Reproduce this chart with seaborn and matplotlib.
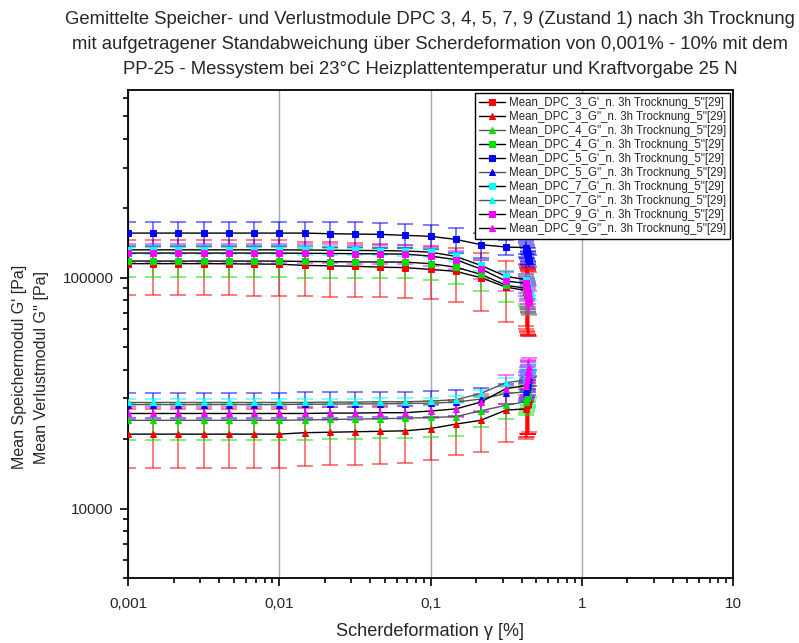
import numpy as np
import pandas as pd
import matplotlib
matplotlib.use("Agg")
import matplotlib.pyplot as plt
import seaborn as sns
from matplotlib.ticker import LogLocator, FuncFormatter, NullFormatter

# ---------------- data ----------------
strain = [0.001, 0.00147, 0.00215, 0.00316, 0.00464, 0.00681, 0.01, 0.0147,
          0.0215, 0.0316, 0.0464, 0.0681, 0.1, 0.147, 0.215, 0.316,
          0.427, 0.431, 0.434, 0.436, 0.438, 0.440, 0.442, 0.444, 0.446]

dpc3_gp = [115000, 115000, 115000, 115000, 114800, 114600, 114400, 113000, 112500, 112000,
           111100, 110500, 108600, 106500, 100000, 91000,
           88000, 86500, 85000, 84000, 83000, 82500, 82000, 81500, 81000]
dpc3_gp_sd = [31000, 31000, 31000, 31000, 31000, 31000, 31000, 30000, 30000, 29500,
              29000, 28500, 28000, 28000, 28000, 27000,
              26500, 26500, 26000, 26000, 26000, 26000, 25500, 25500, 25000]

dpc3_gpp = [21000, 21000, 21000, 21000, 21000, 21000, 21000, 21300, 21400, 21500,
            21600, 21700, 22200, 23200, 24100, 26700,
            27000, 27500, 28000, 28000, 28500, 28500, 29000, 29000, 29500]
dpc3_gpp_sd = [6000, 6000, 6000, 6000, 6000, 6000, 6000, 6000, 6000, 6000,
               6000, 6000, 6000, 6200, 6500, 7300,
               7000, 7000, 7000, 7500, 7500, 7500, 8000, 8000, 8000]

dpc4_gpp = [24100, 24100, 24100, 24100, 24100, 24100, 24100, 24200, 24300, 24400,
            24500, 24600, 24800, 25000, 26500, 28000,
            29000, 29500, 30000, 30500, 31000, 31500, 32500, 33000, 34000]
dpc4_gpp_sd = [4300, 4300, 4300, 4300, 4300, 4300, 4300, 4300, 4300, 4300,
               4300, 4300, 4300, 4300, 4000, 3500,
               3500, 3500, 3500, 3500, 3500, 3500, 3500, 3500, 3500]

dpc4_gp = [118000, 118000, 118000, 118000, 118000, 118000, 118000, 117500, 117300, 117000,
           116900, 116800, 115000, 111000, 103400, 92600,
           90000, 88500, 87000, 86000, 85000, 84000, 83000, 82000, 81000]
dpc4_gp_sd = [17500, 17500, 17500, 17500, 17500, 17500, 17500, 17500, 17500, 17500,
              17500, 17500, 17500, 17500, 16000, 14000,
              13000, 13000, 12500, 12500, 12000, 12000, 12000, 12000, 12000]

dpc5_gp = [156000, 156000, 156000, 156000, 156000, 156000, 156000, 156000, 155000, 154500,
           154000, 152500, 151000, 146500, 139000, 135700,
           135000, 132000, 130000, 128000, 126000, 124000, 122000, 120000, 118000]
dpc5_gp_sd = [19000, 19000, 19000, 19000, 19000, 19000, 19000, 19000, 19000, 19000,
              19000, 18500, 18500, 18000, 17000, 10000,
              9000, 9000, 8000, 8000, 8000, 7000, 7000, 7000, 7000]

dpc5_gpp = [28200, 28200, 28200, 28200, 28200, 28200, 28200, 28300, 28300, 28400,
            28400, 28500, 28600, 28900, 29800, 31500,
            32000, 32500, 33000, 33500, 34000, 35000, 35500, 36000, 37000]
dpc5_gpp_sd = [3600, 3600, 3600, 3600, 3600, 3600, 3600, 3600, 3600, 3600,
               3600, 3600, 3600, 3800, 3500, 3000,
               3000, 3000, 3000, 3000, 3000, 3000, 3000, 3000, 3000]

dpc7_gp = [132000, 132000, 132000, 132000, 132000, 132000, 132000, 131800, 131500, 131200,
           131000, 130500, 129000, 123600, 113000, 101300,
           98000, 96000, 94000, 92000, 90000, 89000, 88000, 87000, 86000]
dpc7_gp_sd = [6000, 6000, 6000, 6000, 6000, 6000, 6000, 6000, 6000, 6000,
              6000, 6000, 6000, 6000, 6000, 6000,
              6000, 6000, 6000, 6000, 6000, 6000, 6000, 6000, 6000]

dpc7_gpp = [28800, 28800, 28800, 28800, 28800, 28800, 28800, 28800, 28900, 28900,
            29000, 29000, 29200, 29600, 31500, 35100,
            36000, 37000, 38000, 38500, 39000, 39500, 40000, 40500, 41000]
dpc7_gpp_sd = [1000, 1000, 1000, 1000, 1000, 1000, 1000, 1000, 1000, 1000,
               1000, 1000, 1000, 1000, 1200, 1500,
               1500, 1500, 1500, 1500, 1500, 1500, 1500, 1500, 1500]

dpc9_gp = [127800, 127800, 127800, 127800, 127800, 127800, 127800, 127500, 127300, 127000,
           126800, 126500, 124000, 119700, 109000, 96700,
           94500, 92000, 90000, 88000, 86000, 84000, 82000, 80000, 78400]
dpc9_gp_sd = [12000, 12000, 12000, 12000, 12000, 12000, 12000, 12000, 12000, 12000,
              12000, 12000, 12000, 11000, 10000, 9000,
              9000, 9000, 9000, 9000, 9000, 9000, 9000, 9000, 9000]

dpc9_gpp = [25800, 25800, 25800, 25800, 25800, 25800, 25800, 25800, 25900, 25900,
            26000, 26000, 26450, 27000, 28900, 33100,
            34000, 35000, 36000, 37000, 38000, 39000, 39500, 40000, 41000]
dpc9_gpp_sd = [1700, 1700, 1700, 1700, 1700, 1700, 1700, 1700, 1700, 1700,
               1700, 1700, 1800, 2000, 2500, 4700,
               4000, 4000, 4000, 4000, 4000, 4000, 4000, 4000, 4000]

labels = ["Mean_DPC_3_G'_n. 3h Trocknung_5\"[29]",
          "Mean_DPC_3_G''_n. 3h Trocknung_5\"[29]",
          "Mean_DPC_4_G''_n. 3h Trocknung_5\"[29]",
          "Mean_DPC_4_G'_n. 3h Trocknung_5\"[29]",
          "Mean_DPC_5_G'_n. 3h Trocknung_5\"[29]",
          "Mean_DPC_5_G''_n. 3h Trocknung_5\"[29]",
          "Mean_DPC_7_G'_n. 3h Trocknung_5\"[29]",
          "Mean_DPC_7_G''_n. 3h Trocknung_5\"[29]",
          "Mean_DPC_9_G'_n. 3h Trocknung_5\"[29]",
          "Mean_DPC_9_G''_n. 3h Trocknung_5\"[29]"]

values = [dpc3_gp, dpc3_gpp, dpc4_gpp, dpc4_gp, dpc5_gp, dpc5_gpp, dpc7_gp, dpc7_gpp, dpc9_gp, dpc9_gpp]
stds = [dpc3_gp_sd, dpc3_gpp_sd, dpc4_gpp_sd, dpc4_gp_sd, dpc5_gp_sd, dpc5_gpp_sd,
        dpc7_gp_sd, dpc7_gpp_sd, dpc9_gp_sd, dpc9_gpp_sd]

colors = ["#FF0000", "#FF0000", "#00E000", "#00E000", "#0000FF", "#0000FF",
          "#00FFFF", "#00FFFF", "#FF00FF", "#FF00FF"]
markers = ["s", "^", "^", "s", "s", "^", "s", "^", "s", "^"]
linecolors = ["#000000", "#000000", "#555555", "#000000", "#000000", "#555555",
              "#000000", "#555555", "#000000", "#000000"]

rows = []
for lab, v, s in zip(labels, values, stds):
    for x, y, e in zip(strain, v, s):
        rows.append({"series": lab, "strain": x, "value": y, "sd": e})
df = pd.DataFrame(rows)

# ---------------- plotting ----------------
sns.set_style("ticks")
plt.rcParams["font.family"] = ["Liberation Sans", "DejaVu Sans"]

fig = plt.figure(figsize=(7.99, 6.43), dpi=100)
ax = fig.add_axes([128 / 799, 1 - 578 / 643, (733 - 128) / 799, (578 - 90) / 643])

for lab, col in zip(labels, colors):
    d = df[df["series"] == lab]
    ax.errorbar(d["strain"], d["value"], yerr=d["sd"], fmt="none", ecolor=col,
                elinewidth=1.1, capsize=6, capthick=1.1, alpha=0.65, zorder=2)

for lab, col, mk, lc in zip(labels, colors, markers, linecolors):
    d = df[df["series"] == lab]
    sns.lineplot(data=d, x="strain", y="value", estimator=None, sort=False, ax=ax,
                 color=lc, lw=1, marker=mk, markersize=5, markerfacecolor=col,
                 markeredgecolor=col, label=lab, zorder=3)

ax.set_xscale("log")
ax.set_yscale("log")
ax.set_xlim(0.001, 10)
ax.set_ylim(5000, 6.5e5)

ax.xaxis.set_major_locator(LogLocator(base=10))
ax.xaxis.set_minor_locator(LogLocator(base=10, subs=np.arange(2, 10)))
ax.xaxis.set_major_formatter(FuncFormatter(lambda v, p: f"{v:g}".replace(".", ",")))
ax.xaxis.set_minor_formatter(NullFormatter())
ax.yaxis.set_major_locator(LogLocator(base=10))
ax.yaxis.set_minor_locator(LogLocator(base=10, subs=np.arange(2, 10)))
ax.yaxis.set_major_formatter(FuncFormatter(lambda v, p: f"{int(round(v))}"))
ax.yaxis.set_minor_formatter(NullFormatter())

ax.tick_params(which="both", direction="out", top=False, right=False, labelsize=11,
               color="black", width=1.2)
ax.tick_params(which="major", length=6)
ax.tick_params(which="minor", length=3.5)
ax.tick_params(axis="x", which="major", pad=8)
ax.tick_params(axis="y", which="major", pad=4.5)
for sp in ax.spines.values():
    sp.set_color("black")
    sp.set_linewidth(1.3)

ax.grid(axis="x", which="major", color="#a8a8a8", lw=1)
ax.grid(axis="y", which="both", visible=False)
ax.set_axisbelow(True)
ax.set_xlabel("")
ax.set_ylabel("")

handles, labs = ax.get_legend_handles_labels()
leg = ax.legend(handles, labs, loc="upper right", bbox_to_anchor=(0.995, 0.994),
                bbox_transform=ax.transAxes, borderaxespad=0, fontsize=8.3,
                frameon=True, fancybox=False, framealpha=1, edgecolor="black",
                labelspacing=0.17, handlelength=2.3, handletextpad=0.3,
                borderpad=0.35, markerscale=1.0)
leg.get_frame().set_linewidth(1)

fig.text(430 / 799, 1 - 10.5 / 643,
         "Gemittelte Speicher- und Verlustmodule DPC 3, 4, 5, 7, 9 (Zustand 1) nach 3h Trocknung\n"
         "mit aufgetragener Standabweichung über Scherdeformation von 0,001% - 10% mit dem\n"
         "PP-25 - Messystem bei 23°C Heizplattentemperatur und Kraftvorgabe 25 N",
         ha="center", va="top", fontsize=13.3, linespacing=1.63)
fig.text(20 / 799, 1 - 367 / 643, "Mean Speichermodul G' [Pa]",
         rotation=90, ha="center", va="center", fontsize=11.5)
fig.text(42 / 799, 1 - 367 / 643, "Mean Verlustmodul G'' [Pa]",
         rotation=90, ha="center", va="center", fontsize=11.5)
fig.text(430 / 799, 1 - 632 / 643, "Scherdeformation γ [%]", ha="center", va="center",
         fontsize=13.1)

fig.savefig("out.png", dpi=100)
